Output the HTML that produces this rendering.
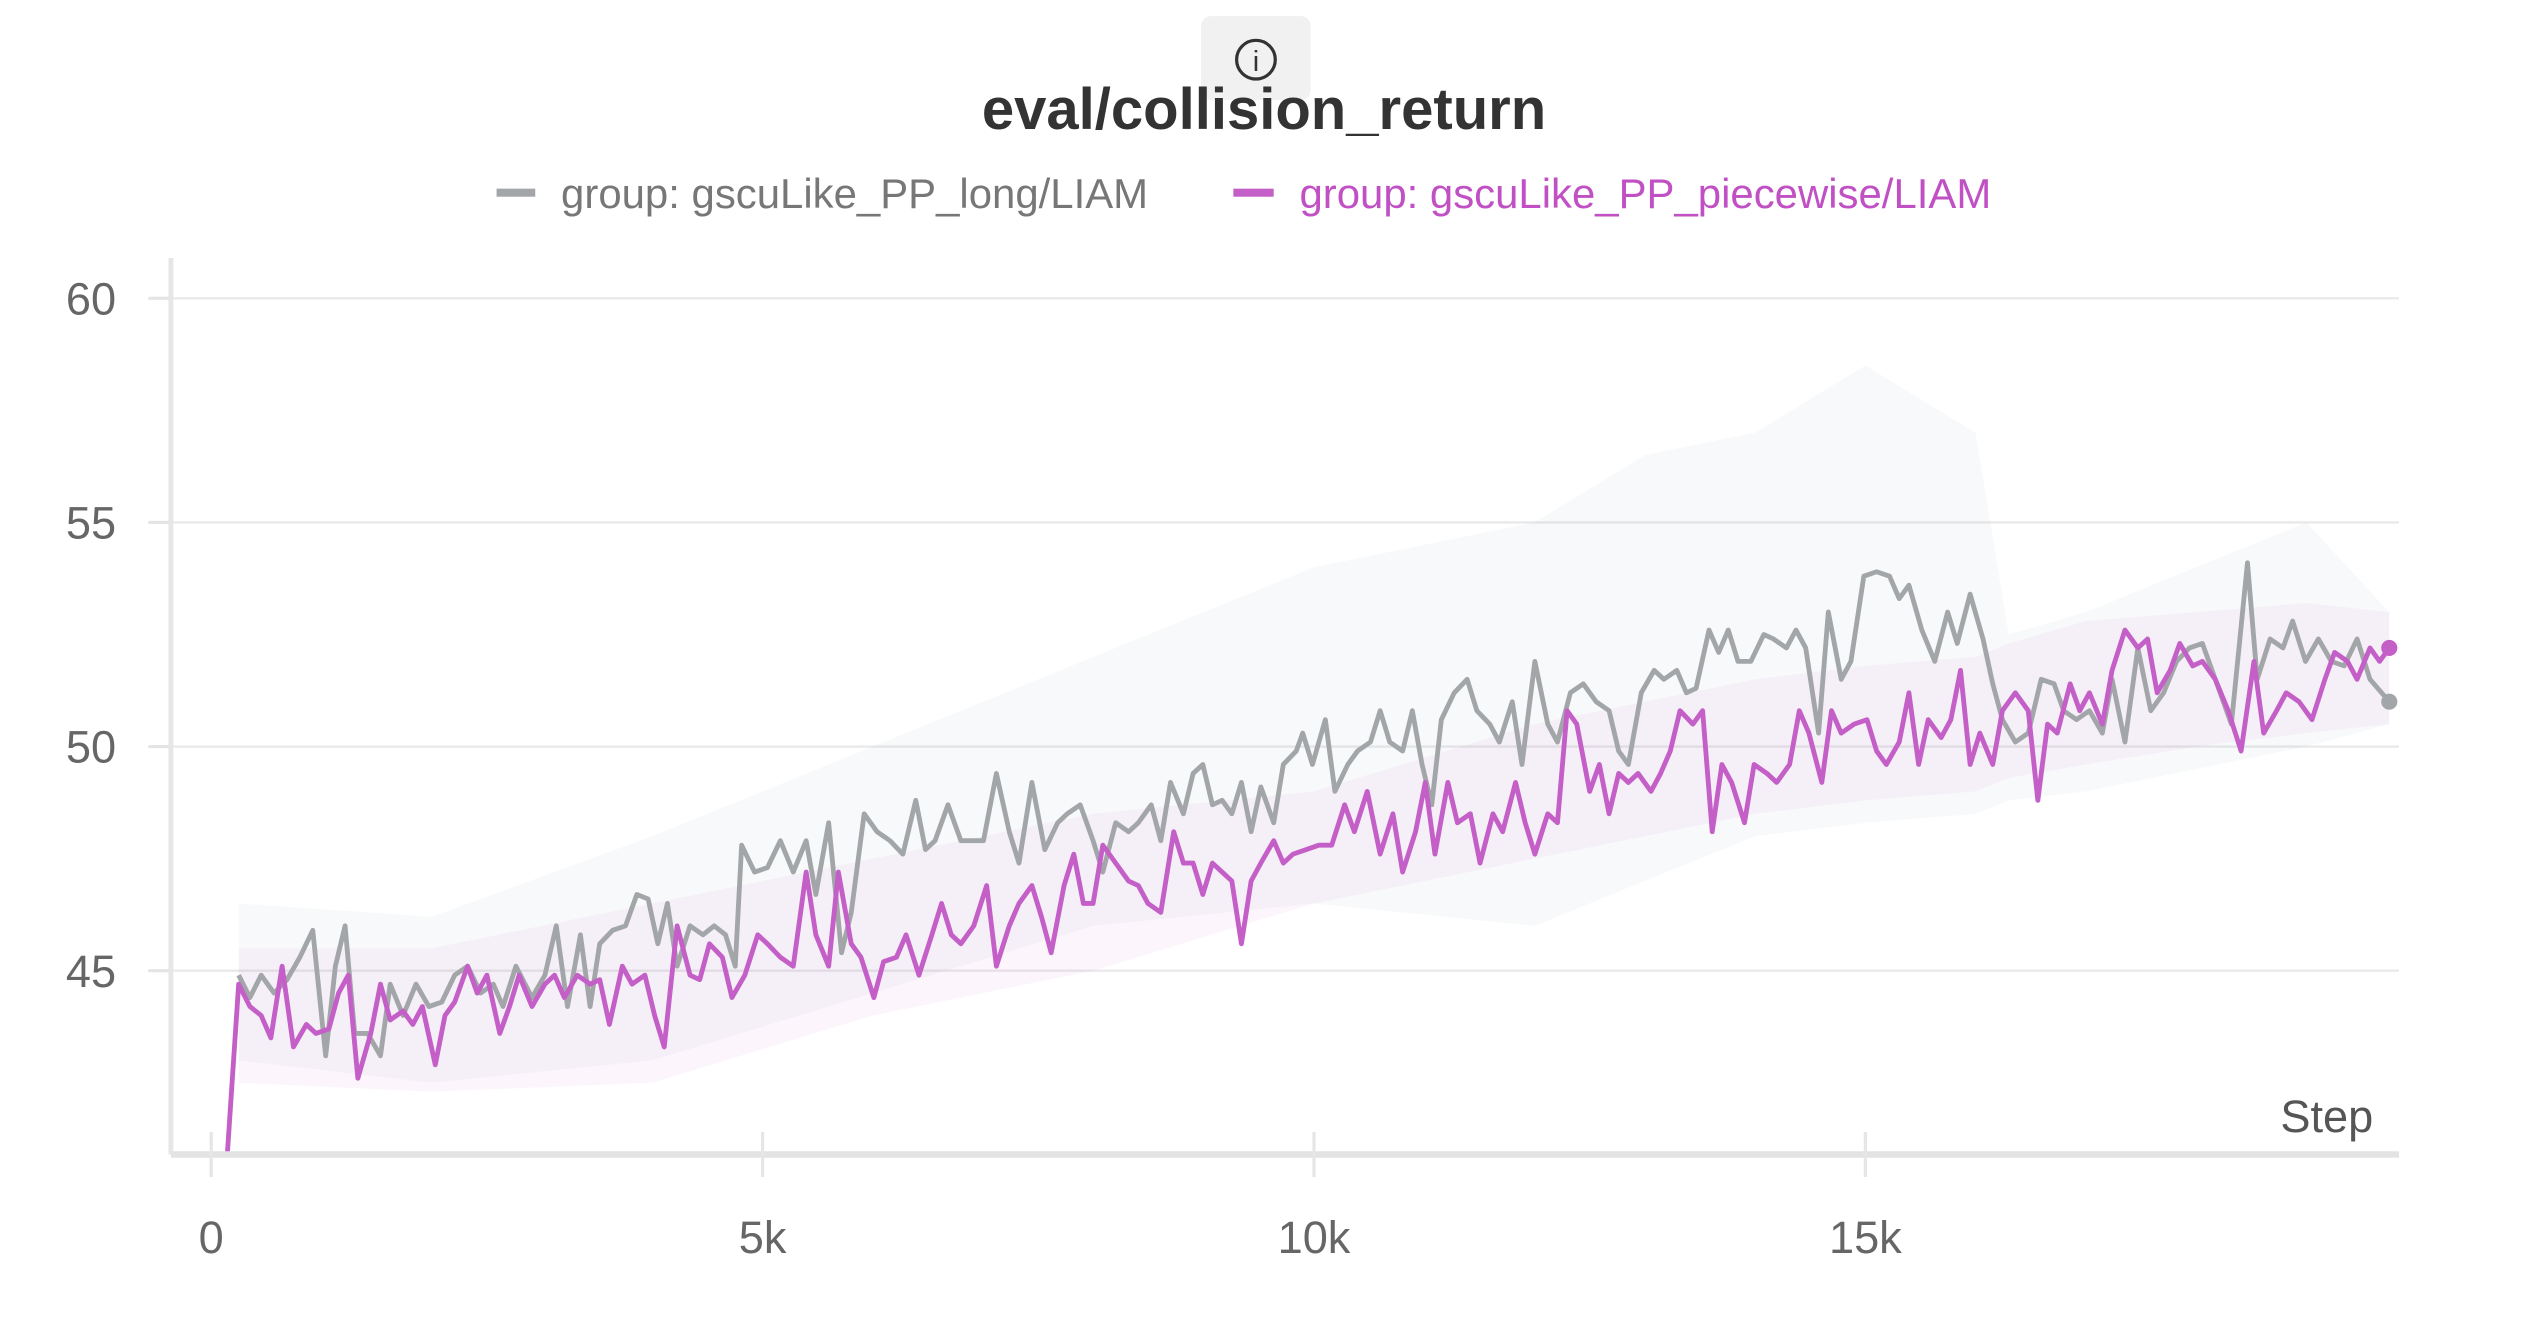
<!DOCTYPE html>
<html><head><meta charset="utf-8"><style>
html,body{margin:0;padding:0;background:#fff;width:2528px;height:1328px;overflow:hidden}
svg{display:block}
text{font-family:"Liberation Sans",sans-serif}
</style></head><body>
<svg id="chart" width="2528" height="1328" viewBox="0 0 1568 823.6" preserveAspectRatio="none" xmlns="http://www.w3.org/2000/svg">
<g>
<rect x="745" y="10" width="68" height="52" rx="6" fill="#f1f1f1"/>
<circle cx="779" cy="37" r="12" fill="none" stroke="#333" stroke-width="2"/>
<text x="779" y="44" font-size="18" text-anchor="middle" fill="#333">i</text>
</g>
<text x="784" y="80" font-size="36" font-weight="bold" text-anchor="middle" fill="#333">eval/collision_return</text>
<g>
<g><rect x="308" y="117" width="24" height="5" fill="#a3a6a9"/><text x="348" y="129" font-size="26" fill="#777">group: gscuLike_PP_long/LIAM</text></g>
<g><rect x="765" y="117" width="25" height="5" fill="#c45fc8"/><text x="806" y="129" font-size="26" fill="#c050c4">group: gscuLike_PP_piecewise/LIAM</text></g>
</g>
<g id="grid"></g><g id="bands"></g><g id="lines"></g><g id="axes"></g>
</svg>
<script>
const yTicks=[45,50,55,60];
const xTicks=[0,5000,10000,15000];
const xTickLabels=["0","5k","10k","15k"];
const grayName="group: gscuLike_PP_long/LIAM";
const purpleName="group: gscuLike_PP_piecewise/LIAM";
const graySteps=[249,351,453,570,687,804,921,1038,1126,1214,1301,1418,1535,1623,1740,1857,1974,2091,2208,2325,2442,2558,2646,2763,2909,3026,3129,3231,3348,3436,3523,3640,3757,3860,3962,4050,4137,4225,4342,4459,4561,4664,4752,4810,4927,5044,5161,5278,5395,5483,5599,5716,5804,5921,6038,6155,6272,6389,6477,6564,6681,6798,6915,7003,7120,7237,7325,7442,7559,7676,7763,7880,7997,8085,8202,8319,8407,8524,8611,8699,8816,8904,8992,9079,9167,9255,9342,9430,9518,9635,9722,9839,9898,9986,10103,10190,10307,10395,10512,10600,10687,10804,10892,10980,11068,11155,11272,11389,11477,11594,11681,11798,11886,12003,12120,12208,12325,12442,12559,12676,12763,12851,12968,13085,13173,13290,13377,13465,13582,13670,13757,13845,13962,14079,14167,14284,14371,14459,14576,14664,14781,14869,14986,15102,15219,15307,15395,15512,15629,15746,15833,15950,16067,16155,16243,16360,16477,16594,16711,16798,16915,17032,17149,17237,17354,17471,17588,17705,17822,17939,18056,18173,18319,18465,18553,18670,18787,18874,18991,19108,19225,19342,19459,19576,19751];
const grayValues=[44.9,44.4,44.9,44.5,44.8,45.3,45.9,43.1,45.1,46.0,43.6,43.6,43.1,44.7,44.0,44.7,44.2,44.3,44.9,45.1,44.5,44.7,44.2,45.1,44.4,44.9,46.0,44.2,45.8,44.2,45.6,45.9,46.0,46.7,46.6,45.6,46.5,45.1,46.0,45.8,46.0,45.8,45.1,47.8,47.2,47.3,47.9,47.2,47.9,46.7,48.3,45.4,46.3,48.5,48.1,47.9,47.6,48.8,47.7,47.9,48.7,47.9,47.9,47.9,49.4,48.1,47.4,49.2,47.7,48.3,48.5,48.7,47.9,47.2,48.3,48.1,48.3,48.7,47.9,49.2,48.5,49.4,49.6,48.7,48.8,48.5,49.2,48.1,49.1,48.3,49.6,49.9,50.3,49.6,50.6,49.0,49.6,49.9,50.1,50.8,50.1,49.9,50.8,49.6,48.7,50.6,51.2,51.5,50.8,50.5,50.1,51.0,49.6,51.9,50.5,50.1,51.2,51.4,51.0,50.8,49.9,49.6,51.2,51.7,51.5,51.7,51.2,51.3,52.6,52.1,52.6,51.9,51.9,52.5,52.4,52.2,52.6,52.2,50.3,53.0,51.5,51.9,53.8,53.9,53.8,53.3,53.6,52.6,51.9,53.0,52.3,53.4,52.4,51.4,50.6,50.1,50.3,51.5,51.4,50.8,50.6,50.8,50.3,51.5,50.1,52.2,50.8,51.2,51.9,52.2,52.3,51.5,50.5,54.1,51.5,52.4,52.2,52.8,51.9,52.4,51.9,51.8,52.4,51.5,51.0];
const purpleSteps=[146,249,351,453,541,643,746,863,950,1067,1155,1243,1330,1447,1535,1623,1740,1828,1915,2032,2120,2208,2325,2412,2500,2617,2705,2792,2909,3026,3114,3202,3319,3436,3523,3611,3728,3816,3933,4021,4108,4225,4342,4430,4518,4635,4722,4839,4956,5044,5161,5278,5395,5483,5599,5687,5804,5892,6009,6097,6214,6301,6418,6535,6623,6711,6798,6915,7032,7120,7237,7325,7442,7529,7617,7734,7822,7909,7997,8085,8202,8319,8407,8494,8611,8728,8816,8904,8992,9079,9167,9255,9342,9430,9518,9635,9722,9810,9927,10044,10161,10278,10366,10483,10600,10716,10804,10921,11009,11097,11214,11301,11418,11506,11623,11711,11828,11915,12003,12120,12208,12295,12383,12500,12588,12676,12763,12851,12939,13056,13143,13231,13319,13436,13524,13611,13699,13787,13904,13991,14108,14196,14313,14401,14488,14605,14693,14781,14898,15015,15102,15190,15307,15395,15483,15570,15687,15775,15863,15950,16038,16155,16243,16360,16477,16564,16652,16740,16857,16944,17032,17149,17237,17354,17471,17559,17646,17764,17851,17968,18056,18173,18290,18407,18524,18612,18729,18816,18933,19050,19167,19255,19372,19459,19576,19663,19751];
const purpleValues=[40.9,44.7,44.2,44.0,43.5,45.1,43.3,43.8,43.6,43.7,44.5,44.9,42.6,43.6,44.7,43.9,44.1,43.8,44.2,42.9,44.0,44.3,45.1,44.5,44.9,43.6,44.2,44.9,44.2,44.7,44.9,44.4,44.9,44.7,44.8,43.8,45.1,44.7,44.9,44.0,43.3,46.0,44.9,44.8,45.6,45.3,44.4,44.9,45.8,45.6,45.3,45.1,47.2,45.8,45.1,47.2,45.6,45.3,44.4,45.2,45.3,45.8,44.9,45.8,46.5,45.8,45.6,46.0,46.9,45.1,46.0,46.5,46.9,46.2,45.4,46.9,47.6,46.5,46.5,47.8,47.4,47.0,46.9,46.5,46.3,48.1,47.4,47.4,46.7,47.4,47.2,47.0,45.6,47.0,47.4,47.9,47.4,47.6,47.7,47.8,47.8,48.7,48.1,49.0,47.6,48.5,47.2,48.1,49.2,47.6,49.2,48.3,48.5,47.4,48.5,48.1,49.2,48.3,47.6,48.5,48.3,50.8,50.5,49.0,49.6,48.5,49.4,49.2,49.4,49.0,49.4,49.9,50.8,50.5,50.8,48.1,49.6,49.2,48.3,49.6,49.4,49.2,49.6,50.8,50.3,49.2,50.8,50.3,50.5,50.6,49.9,49.6,50.1,51.2,49.6,50.6,50.2,50.6,51.7,49.6,50.3,49.6,50.8,51.2,50.8,48.8,50.5,50.3,51.4,50.8,51.2,50.5,51.7,52.6,52.2,52.4,51.2,51.7,52.3,51.8,51.9,51.5,50.8,49.9,51.9,50.3,50.8,51.2,51.0,50.6,51.5,52.1,51.9,51.5,52.2,51.9,52.2];
const bandSteps=[250,2000,4000,6000,8000,10000,12000,13000,14000,15000,16000,16300,17000,18000,19000,19750];
const grayUpper=[46.5,46.2,48.0,50.0,52.0,54.0,55.0,56.5,57.0,58.5,57.0,52.5,53.0,54.0,55.0,53.0];
const grayLower=[43.0,42.5,43.0,44.5,46.0,46.5,46.0,47.0,48.0,48.3,48.5,48.8,49.0,49.5,50.0,50.5];
const purpleUpper=[45.5,45.5,46.5,47.5,48.5,49.0,50.5,51.0,51.5,51.8,52.0,52.3,52.8,53.0,53.2,53.0];
const purpleLower=[42.5,42.3,42.5,44.0,45.0,46.5,47.5,48.0,48.5,48.8,49.0,49.3,49.6,50.0,50.3,50.5];

const NS="http://www.w3.org/2000/svg";
const L=106,R=1488,B=716,T=160;
function xs(s){return 131+s*0.0684;}
function ys(v){return 463-(v-50)*27.8;}
function mk(tag,attrs,parent){const e=document.createElementNS(NS,tag);for(const k in attrs)e.setAttribute(k,attrs[k]);parent.appendChild(e);return e;}
const svg=document.getElementById('chart');
const defs=mk('defs',{},svg);
const cp=mk('clipPath',{id:'plotclip'},defs);
mk('rect',{x:L,y:T,width:R-L,height:B-T},cp);

const grid=document.getElementById('grid');
yTicks.forEach(v=>{
  const g=mk('line',{x1:L,x2:R,y1:ys(v),y2:ys(v),stroke:'#e9e9e9','stroke-width':1.5},grid);
  
  
  const t=mk('line',{x1:92,x2:L,y1:ys(v),y2:ys(v),stroke:'#e4e4e4','stroke-width':2},grid);
  
  
  const lb=mk('text',{x:72,y:ys(v)+10,'font-size':28,'text-anchor':'end',fill:'#666'},grid);
  lb.textContent=String(v);
  
  
});

function band(up,lo,fill,name){
  let d='';
  bandSteps.forEach((s,i)=>{d+=(i?'L':'M')+xs(s)+','+ys(up[i]);});
  for(let i=bandSteps.length-1;i>=0;i--)d+='L'+xs(bandSteps[i])+','+ys(lo[i]);
  const p=mk('path',{d:d+'Z',fill:fill,'clip-path':'url(#plotclip)'},document.getElementById('bands'));
  
  
}
band(grayUpper,grayLower,'rgba(160,170,180,0.07)','band-long');
band(purpleUpper,purpleLower,'rgba(200,100,200,0.06)','band-piecewise');

function line(steps,vals,color,name){
  const pts=steps.map((s,i)=>xs(s)+','+ys(vals[i])).join(' ');
  const pl=mk('polyline',{points:pts,fill:'none',stroke:color,'stroke-width':3,'stroke-linejoin':'round','clip-path':'url(#plotclip)'},document.getElementById('lines'));
  
  
  const n=steps.length-1;
  const c=mk('circle',{cx:xs(steps[n]),cy:ys(vals[n]),r:5,fill:color},document.getElementById('lines'));
  
  
}
line(graySteps,grayValues,'#a3a6a9','series-long');
line(purpleSteps,purpleValues,'#c45fc8','series-piecewise');

const ax=document.getElementById('axes');
const yl=mk('line',{x1:L,x2:L,y1:T,y2:B,stroke:'#e6e6e6','stroke-width':3},ax);


const xl=mk('line',{x1:L,x2:R,y1:B,y2:B,stroke:'#e3e3e3','stroke-width':4},ax);


xTicks.forEach((s,i)=>{
  const t=mk('line',{x1:xs(s),x2:xs(s),y1:702,y2:730,stroke:'#e6e6e6','stroke-width':2},ax);
  
  
  const lb=mk('text',{x:xs(s),y:777,'font-size':28,'text-anchor':'middle',fill:'#666'},ax);
  lb.textContent=xTickLabels[i];
  
  
});
const st=mk('text',{x:1472,y:702,'font-size':28,'text-anchor':'end',fill:'#555'},ax);
st.textContent='Step';


</script>
</body></html>
